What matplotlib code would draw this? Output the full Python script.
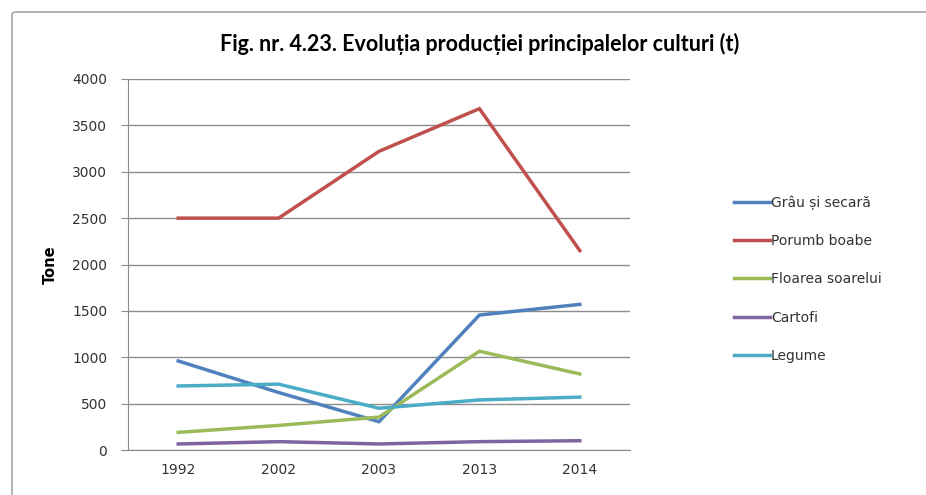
import matplotlib
matplotlib.use("Agg")
import matplotlib.pyplot as plt
from matplotlib.patches import FancyBboxPatch

years = ["1992", "2002", "2003", "2013", "2014"]
grau = [960, 620, 305, 1455, 1570]
porumb = [2500, 2500, 3220, 3680, 2150]
floarea = [190, 265, 355, 1065, 820]
cartofi = [65, 90, 65, 90, 100]
legume = [690, 710, 450, 540, 570]
labels = ["Grâu și secară", "Porumb boabe", "Floarea soarelui", "Cartofi", "Legume"]
colors = ["#4F81BD", "#C0504D", "#9BBB59", "#8064A2", "#4BACC6"]
yticks = [0, 500, 1000, 1500, 2000, 2500, 3000, 3500, 4000]

fig = plt.figure(figsize=(9.26, 4.95), dpi=100)
fig.patch.set_facecolor("white")
frame = FancyBboxPatch((12/926, -0.05), 1.0, (495-12)/495 + 0.05,
                       boxstyle="round,pad=0,rounding_size=0.005",
                       transform=fig.transFigure, fill=False,
                       edgecolor="#A6A6A6", linewidth=1.2)
fig.patches.append(frame)

ax = fig.add_axes([128/926, 45/495, 502/926, 371/495])
x = list(range(len(years)))
for vals, lab, col in zip([grau, porumb, floarea, cartofi, legume], labels, colors):
    ax.plot(x, vals, color=col, linewidth=2.5, label=lab, solid_joinstyle="miter")

ax.set_xlim(-0.5, len(years) - 0.5)
ax.set_ylim(0, 4000)
ax.set_yticks(yticks)
ax.set_yticklabels([str(v) for v in yticks], fontsize=10, color="#333333")
ax.set_xticks(x)
ax.set_xticklabels(years, fontsize=10, color="#333333")
ax.grid(axis="y", color="#8C8C8C", linewidth=1.0)
ax.set_axisbelow(True)
for s in ["top", "right"]:
    ax.spines[s].set_visible(False)
ax.spines["left"].set_color("#8C8C8C")
ax.spines["bottom"].set_color("#8C8C8C")
ax.tick_params(axis="y", length=5, color="#8C8C8C", pad=10)
ax.tick_params(axis="x", length=0, pad=9)
ax.set_ylabel("Tone", fontsize=10.5, fontweight="bold", labelpad=10)

fig.text(480/926, 1 - 44/495, "Fig. nr. 4.23. Evoluția producției principalelor culturi (t)",
         ha="center", va="center", fontsize=15.5, fontweight="bold", family="Lato")

leg = ax.legend(loc="center left", bbox_to_anchor=(721/926, 1 - 279/495),
                bbox_transform=fig.transFigure, frameon=False, fontsize=10,
                handlelength=2.6, handletextpad=0.1, labelspacing=1.75)
for t in leg.get_texts():
    t.set_color("#333333")

fig.savefig("out.png", dpi=100)
